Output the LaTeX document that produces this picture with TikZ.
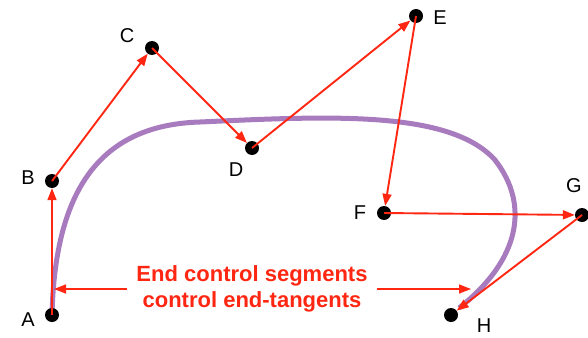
\documentclass[tikz,border=0pt]{standalone}
\usepackage{fontspec}
\setmainfont{Liberation Sans}
\usetikzlibrary{arrows.meta,positioning}
\definecolor{segred}{RGB}{255,38,18}
\definecolor{curvepurple}{RGB}{168,122,190}

\begin{document}
\begin{tikzpicture}[x=1pt, y=-1pt,
  ctrl/.style={circle, fill=black, inner sep=0pt, minimum size=14pt},
  lbl/.style={inner sep=0pt, font=\fontsize{20}{20}\selectfont},
  seg/.style={-{Triangle[length=12pt, width=9pt]}, segred, line width=1.9pt},
  note/.style={align=center, text=segred, inner sep=9pt, font=\bfseries\fontsize{22}{26}\selectfont},
  curve/.style={curvepurple, line width=5pt}
]
  \useasboundingbox (0,0) rectangle (588,337);

  % control points
  \coordinate (pA) at (52,315);
  \coordinate (pB) at (52,181);
  \coordinate (pC) at (152,48);
  \coordinate (pD) at (252,148);
  \coordinate (pE) at (416,16);
  \coordinate (pF) at (384,213);
  \coordinate (pG) at (582,215);
  \coordinate (pH) at (451,315);

  % the curve
  \draw[curve] (pA) .. controls (55,190) and (100,125) .. (200,122)
                    .. controls (330,116) and (450,110) .. (495,160)
                    .. controls (530,205) and (520,260) .. (459,308);

  \node[ctrl] (A) at (pA) {};
  \node[ctrl] (B) at (pB) {};
  \node[ctrl] (C) at (pC) {};
  \node[ctrl] (D) at (pD) {};
  \node[ctrl] (E) at (pE) {};
  \node[ctrl] (F) at (pF) {};
  \node[ctrl] (G) at (pG) {};
  \node[ctrl] (H) at (pH) {};

  \node[lbl] (lA) at (28,320) {A};
  \node[lbl] (lB) at (28,178) {B};
  \node[lbl] (lC) at (127,36)  {C};
  \node[lbl] (lD) at (236,170) {D};
  \node[lbl] (lE) at (440,18)  {E};
  \node[lbl] (lF) at (360,213) {F};
  \node[lbl] (lG) at (574,186) {G};
  \node[lbl] (lH) at (484,326) {H};

  \draw[seg] (A.center) -- (B);
  \draw[seg] (B.center) -- (C);
  \draw[seg] (C.center) -- (D);
  \draw[seg] (D.center) -- (E);
  \draw[seg] (E.center) -- (F);
  \draw[seg] (F.center) -- (G);
  \draw[seg] (G.center) -- (H);

  % note with its two pointers
  \node[note] (note) at (252,289) {End control segments\\control end-tangents};
  \coordinate (tanL) at (54,289);
  \coordinate (tanR) at (471,289);
  \draw[seg, line width=1.5pt] (note.west) -- (tanL);
  \draw[seg, line width=1.5pt] (note.east) -- (tanR);
\end{tikzpicture}
\end{document}
